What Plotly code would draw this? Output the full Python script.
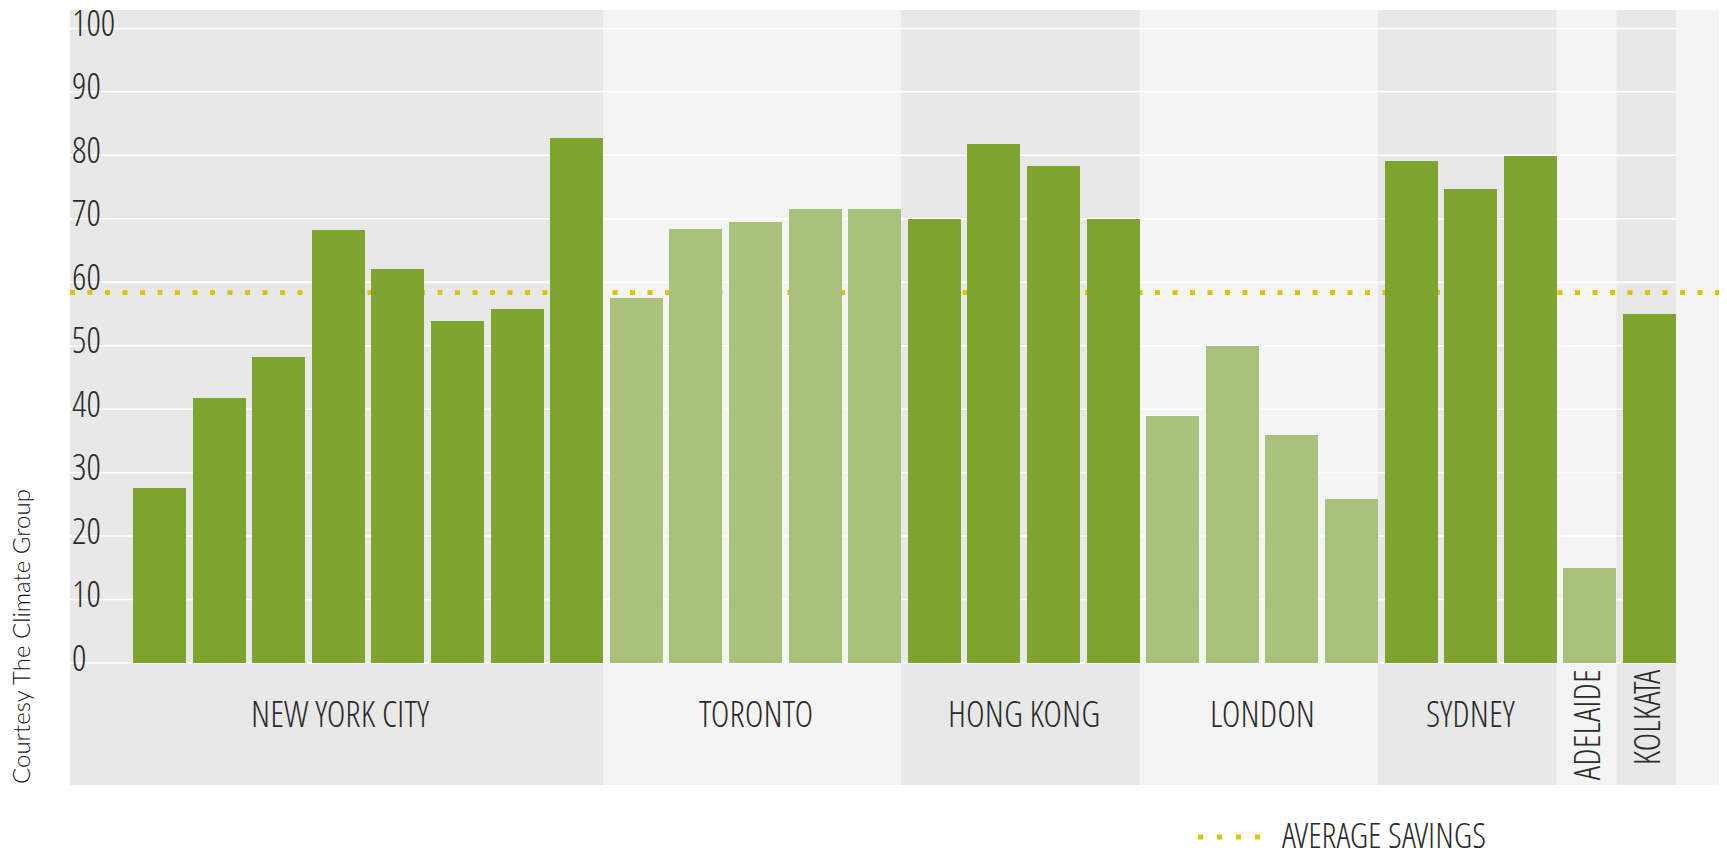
import plotly.graph_objects as go

# ---- data ----
cities = ["NEW YORK CITY", "TORONTO", "HONG KONG", "LONDON", "SYDNEY", "ADELAIDE", "KOLKATA"]
new_york = [27.6, 41.8, 48.2, 68.2, 62.1, 53.9, 55.8, 82.7]
toronto = [57.5, 68.4, 69.5, 71.5, 71.5]
hong_kong = [70.0, 81.8, 78.3, 70.0]
london = [38.9, 50.0, 35.9, 25.8]
sydney = [79.1, 74.7, 79.9]
adelaide = [15.0]
kolkata = [55.0]
average_savings = 58.4
y_ticks = [0, 10, 20, 30, 40, 50, 60, 70, 80, 90, 100]
y_tick_labels = ["0", "10", "20", "30", "40", "50", "60", "70", "80", "90", "100"]
legend_label = "AVERAGE SAVINGS"
credit = "Courtesy The Climate Group"
cropped_text = "D"

groups = [new_york, toronto, hong_kong, london, sydney, adelaide, kolkata]

# ---- style ----
DARK_GREEN = "#7ea32f"
LIGHT_GREEN = "#aac17b"
BAND_DARK = "#e8e8e8"
BAND_LIGHT = "#f4f4f4"
DOT_COLOR = "#d9c600"
TEXT = "#2b2b2b"
COND = "Open Sans Condensed Light, DejaVu Sans Condensed, sans-serif"

# page has an 8px body margin: size the figure so the plot lands where the reference has it
OFF = 8
W, H = 1727 - OFF, 851 - OFF
ML, MR, MT, MB = 62, 5, 2, 66
X_LEFT, X_RIGHT = -1.502, 26.216
Y_LOW, Y_HIGH = -19.22, 102.9
BAR_W = 0.889
EDGE = BAR_W / 2

xs, ys, colors = [], [], []
bands = []
i = 0
for g, vals in enumerate(groups):
    start = i
    for v in vals:
        xs.append(i)
        ys.append(v)
        colors.append(DARK_GREEN if g % 2 == 0 else LIGHT_GREEN)
        i += 1
    left = X_LEFT if g == 0 else start - 1 + EDGE
    right = i - 1 + EDGE
    bands.append((left, right, g))

pw = W - ML - MR
ph = H - MT - MB
def px_x(p):
    return (p - OFF - ML) / pw
def px_y(p):
    return (H - MB - (p - OFF)) / ph
def data_x(p):
    return X_LEFT + px_x(p) * (X_RIGHT - X_LEFT)
def data_y(p):
    return Y_LOW + px_y(p) * (Y_HIGH - Y_LOW)

fig = go.Figure()
fig.add_trace(go.Bar(x=xs, y=ys, width=BAR_W, marker=dict(color=colors, line=dict(width=0)),
                     showlegend=False, hoverinfo="skip"))
# cropped text fragment at the bottom-right corner of the reference
fig.add_trace(go.Scatter(x=[data_x(1712)], y=[data_y(829)], mode="text", text=[cropped_text],
                         textposition="bottom right", cliponaxis=False, showlegend=False,
                         hoverinfo="skip",
                         textfont=dict(family=COND, size=36, color=TEXT)))

shapes = []
shapes.append(dict(type="rect", xref="x", yref="paper", x0=X_LEFT, x1=X_RIGHT, y0=0, y1=1,
                   fillcolor=BAND_LIGHT, line=dict(width=0), layer="below"))
for left, right, g in bands:
    shapes.append(dict(type="rect", xref="x", yref="paper", x0=left, x1=right, y0=0, y1=1,
                       fillcolor=BAND_DARK if g % 2 == 0 else BAND_LIGHT,
                       line=dict(width=0), layer="below"))
grid_right = bands[-1][1]
for t in y_ticks:
    shapes.append(dict(type="line", xref="x", yref="y", x0=X_LEFT, x1=grid_right, y0=t, y1=t,
                       line=dict(color="white", width=1.5), layer="below"))
shapes.append(dict(type="line", xref="x", yref="y", x0=X_LEFT, x1=X_RIGHT,
                   y0=average_savings, y1=average_savings,
                   line=dict(color=DOT_COLOR, width=5, dash="5px,12.5px"), layer="between"))

# legend sample
shapes.append(dict(type="line", xref="paper", yref="paper", x0=px_x(1198), x1=px_x(1262),
                   y0=px_y(837), y1=px_y(837),
                   line=dict(color=DOT_COLOR, width=5, dash="5px,14px")))

annotations = []
# y tick labels (left aligned inside the band, as in the reference)
for t, lab in zip(y_ticks, y_tick_labels):
    annotations.append(dict(x=X_LEFT, y=t, xref="x", yref="y", text=lab, showarrow=False,
                            xanchor="left", yanchor="middle", xshift=0, yshift=6,
                            font=dict(family=COND, size=36, color=TEXT)))

for (left, right, g), name in zip(bands, cities):
    if len(groups[g]) > 1:
        annotations.append(dict(x=(left + right) / 2, y=-8.0, xref="x", yref="y", text=name,
                                showarrow=False, xanchor="center", yanchor="middle", xshift=4,
                                font=dict(family=COND, size=36, color=TEXT)))
    else:
        annotations.append(dict(x=(left + right) / 2, y=0, xref="x", yref="y", text=name,
                                showarrow=False, textangle=-90, xanchor="center", yanchor="top",
                                yshift=-4, font=dict(family=COND, size=36, color=TEXT)))

annotations.append(dict(x=px_x(1280), y=px_y(834), xref="paper", yref="paper", text=legend_label,
                        showarrow=False, xanchor="left", yanchor="middle",
                        font=dict(family=COND, size=35, color=TEXT)))
annotations.append(dict(x=px_x(20), y=px_y(637), xref="paper", yref="paper", text=credit,
                        showarrow=False, textangle=-90, xanchor="center", yanchor="middle",
                        font=dict(family="Lato Light, Lato, Noto Sans, sans-serif", size=24,
                                  color="#111111")))

fig.update_layout(
    width=W, height=H,
    margin=dict(l=ML, r=MR, t=MT, b=MB, pad=0, autoexpand=False),
    paper_bgcolor="white", plot_bgcolor=BAND_LIGHT,
    shapes=shapes, annotations=annotations,
    bargap=0,
    xaxis=dict(range=[X_LEFT, X_RIGHT], visible=False, fixedrange=True),
    yaxis=dict(range=[Y_LOW, Y_HIGH], tickvals=y_ticks, showticklabels=False,
               showgrid=False, zeroline=False, showline=False, ticks="", fixedrange=True),
    showlegend=False,
)

fig.write_html("out.html", config={"displayModeBar": False})
